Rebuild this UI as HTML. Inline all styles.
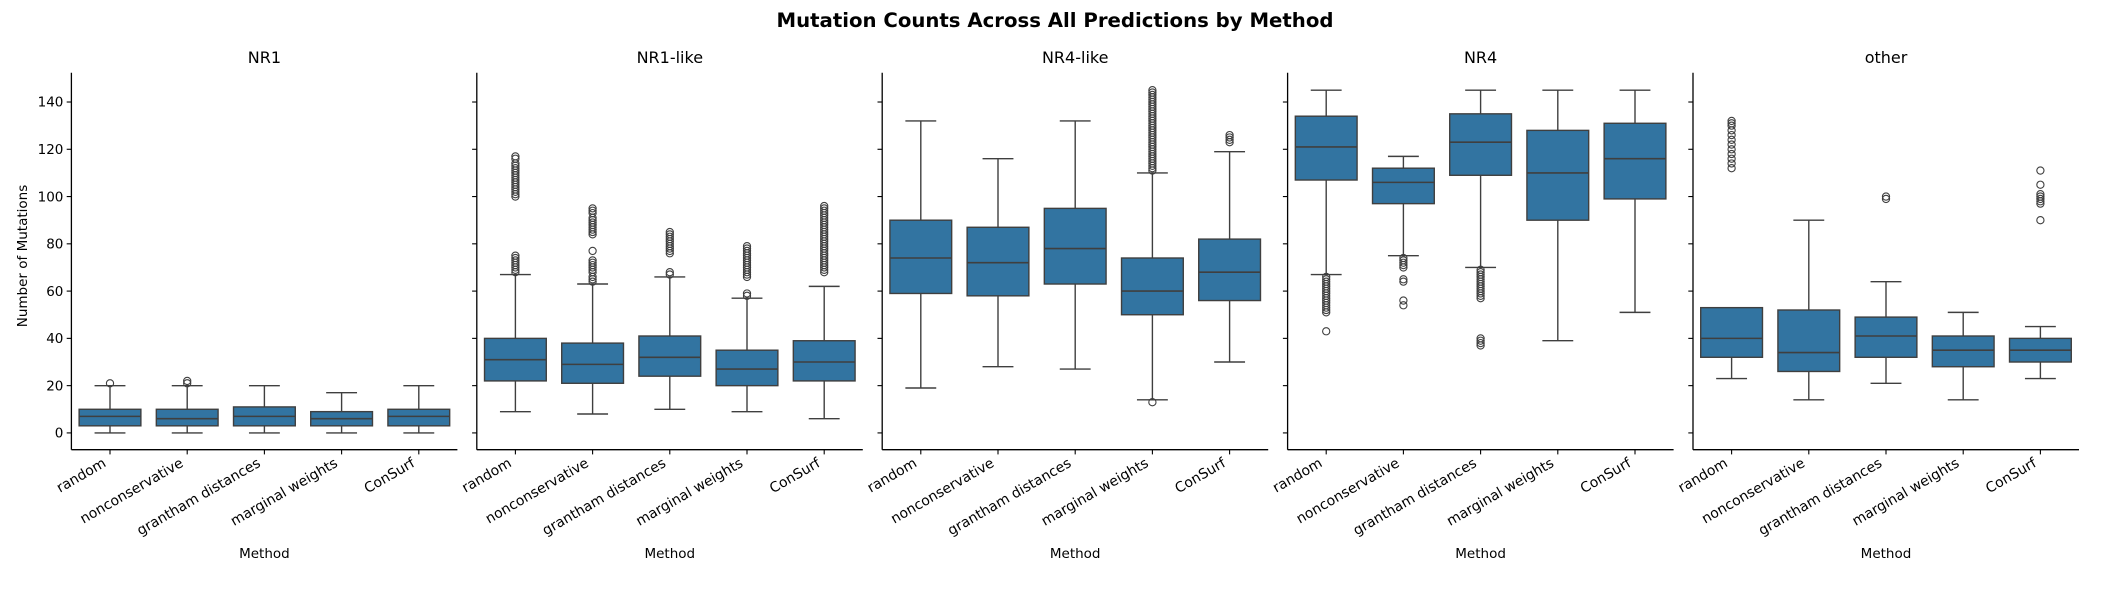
<!DOCTYPE html>
<html><head><meta charset="utf-8"><style>
html,body{margin:0;padding:0;background:#fff}
svg{display:block;font-family:"DejaVu Sans","Liberation Sans",sans-serif}
</style></head><body>
<svg id="chart" width="2111" height="600" xmlns="http://www.w3.org/2000/svg">
<text x="1055" y="27" text-anchor="middle" font-size="19.7" font-weight="bold" fill="#000">Mutation Counts Across All Predictions by Method</text>
<text transform="translate(27,256) rotate(-90)" text-anchor="middle" font-size="13.5" fill="#000">Number of Mutations</text>
</svg>
<script>
const panels = ["NR1","NR1-like","NR4-like","NR4","other"];
const methods = ["random","nonconservative","grantham distances","marginal weights","ConSurf"];
const yTicks = [0,20,40,60,80,100,120,140];
// [whislo, q1, median, q3, whishi] per panel per method
const statsNR1 = [[0,3,7,10,20],[0,3,6,10,20],[0,3,7,11,20],[0,3,6,9,17],[0,3,7,10,20]];
const statsNR1like = [[9,22,31,40,67],[8,21,29,38,63],[10,24,32,41,66],[9,20,27,35,57],[6,22,30,39,62]];
const statsNR4like = [[19,59,74,90,132],[28,58,72,87,116],[27,63,78,95,132],[14,50,60,74,110],[30,56,68,82,119]];
const statsNR4 = [[67,107,121,134,145],[75,97,106,112,117],[70,109,123,135,145],[39,90,110,128,145],[51,99,116,131,145]];
const statsOther = [[23,32,40,53,53],[14,26,34,52,90],[21,32,41,49,64],[14,28,35,41,51],[23,30,35,40,45]];
const outNR1 = [[21],[21,22],[],[],[]];
const outNR1like = [[68,69,70,71,72,73,74,75,100,101,102,103,104,105,106,107,108,109,110,111,112,113,114,116,117],
  [64,65,66,68,69,70,71,72,73,77,84,85,86,87,88,89,90,91,93,94,95],
  [67,68,76,77,78,79,80,81,82,83,84,85],
  [58,59,66,67,68,69,70,71,72,73,74,75,76,77,78,79],
  [68,69,70,71,72,73,74,75,76,77,78,79,80,81,82,83,84,85,86,87,88,89,90,91,92,93,94,95,96]];
const outNR4like = [[],[],[],[13,111,112,113,114,115,116,117,118,119,120,121,122,123,124,125,126,127,128,129,130,131,132,133,134,135,136,137,138,139,140,141,142,143,144,145],[123,124,125,126]];
const outNR4 = [[43,51,52,53,54,55,56,57,58,59,60,61,62,63,64,65,66],[54,56,64,65,70,71,72,73,74],[37,38,39,40,57,58,59,60,61,62,63,64,65,66,67,68,69],[],[]];
const outOther = [[112,114,116,118,120,122,124,126,128,130,131,132],[],[99,100],[],[90,97,98,99,100,101,105,111]];
const allStats = [statsNR1,statsNR1like,statsNR4like,statsNR4,statsOther];
const allOut = [outNR1,outNR1like,outNR4like,outNR4,outOther];

const NS="http://www.w3.org/2000/svg";
const svg=document.getElementById('chart');
const P0=71.4, PW=386, PSTEP=405.4, TOP=72.7, BOT=449.7, YMIN=-7.1, YMAX=152.4;
const LC="#3f3f3f", FILL="#3274a1";
function y(v){return BOT-(v-YMIN)/(YMAX-YMIN)*(BOT-TOP);}
function xc(p,i){return P0+p*PSTEP+(i+0.5)*PW/5;}
function mk(tag,attrs,parent){const e=document.createElementNS(NS,tag);for(const k in attrs)e.setAttribute(k,attrs[k]);(parent||svg).appendChild(e);return e;}

panels.forEach((name,p)=>{
  const g=mk('g',{});
  
  
  const L=P0+p*PSTEP, R=L+PW;
  const t=mk('text',{x:(L+R)/2,y:63,'text-anchor':'middle','font-size':16,fill:'#000'},g);
  t.textContent=name;
  
  
  yTicks.forEach(v=>{
    const tk=mk('line',{x1:L-4.7,x2:L,y1:y(v),y2:y(v),stroke:'#000','stroke-width':1.1},g);
    
    
    if(p===0){
      const tl=mk('text',{x:L-8,y:y(v)+4.7,'text-anchor':'end','font-size':13.5,fill:'#000'},g);
      tl.textContent=v;
      
      
    }
  });
  methods.forEach((m,i)=>{
    const s=allStats[p][i], cx=xc(p,i), bw=PW/5*0.8, cw=bw/2;
    const bg=mk('g',{},g);
    
    
    mk('line',{x1:cx,x2:cx,y1:y(s[0]),y2:y(s[1]),stroke:LC,'stroke-width':1.4},bg);
    mk('line',{x1:cx,x2:cx,y1:y(s[3]),y2:y(s[4]),stroke:LC,'stroke-width':1.4},bg);
    mk('line',{x1:cx-cw/2,x2:cx+cw/2,y1:y(s[0]),y2:y(s[0]),stroke:LC,'stroke-width':1.4},bg);
    mk('line',{x1:cx-cw/2,x2:cx+cw/2,y1:y(s[4]),y2:y(s[4]),stroke:LC,'stroke-width':1.4},bg);
    mk('rect',{x:cx-bw/2,y:y(s[3]),width:bw,height:y(s[1])-y(s[3]),fill:FILL,stroke:LC,'stroke-width':1.4},bg);
    mk('line',{x1:cx-bw/2,x2:cx+bw/2,y1:y(s[2]),y2:y(s[2]),stroke:LC,'stroke-width':1.6},bg);
    allOut[p][i].forEach(v=>{
      const c=mk('circle',{cx:cx,cy:y(v),r:3.6,fill:'none',stroke:LC,'stroke-width':1.1},bg);
      
      
    });
    const tk=mk('line',{x1:cx,x2:cx,y1:BOT,y2:BOT+4.7,stroke:'#000','stroke-width':1.1},g);
    
    
    const tl=mk('text',{transform:`translate(${cx-3},${BOT+16}) rotate(-30)`,'text-anchor':'end','font-size':14,fill:'#000'},g);
    tl.textContent=m;
    
    
  });
  const ls=mk('line',{x1:L,x2:L,y1:TOP,y2:BOT,stroke:'#000','stroke-width':1.3},g);
  
  
  const bs=mk('line',{x1:L,x2:R,y1:BOT,y2:BOT,stroke:'#000','stroke-width':1.3},g);
  
  
  const xl=mk('text',{x:(L+R)/2,y:558,'text-anchor':'middle','font-size':13.5,fill:'#000'},g);
  xl.textContent='Method';
  
  
});
</script>
</body></html>
